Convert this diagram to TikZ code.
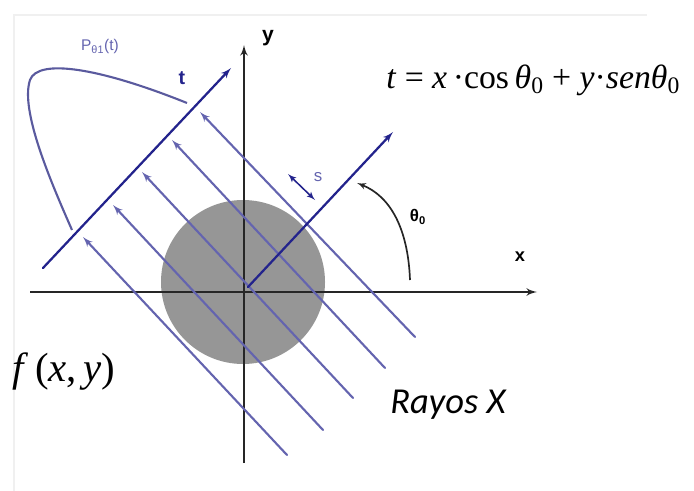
\documentclass[tikz,border=0pt]{standalone}
\usepackage{fontspec}
\setmainfont{Liberation Serif}
\setsansfont{Liberation Sans}
\newfontfamily\calibri{Carlito}
\usepackage{xcolor}
\usetikzlibrary{arrows}

\definecolor{navyblue}{RGB}{35,35,140}
\definecolor{raycol}{RGB}{100,100,175}
\definecolor{blobgray}{RGB}{150,150,150}

\begin{document}
\begin{tikzpicture}[x=0.025cm, y=-0.025cm,
    axis/.style={draw=black!85, line width=1.6pt, -latex'},
    tline/.style={draw=navyblue, line width=1.6pt, -latex', line cap=round},
    ray/.style={draw=raycol, line width=1.5pt, -latex', line cap=round},
    lbl/.style={font=\sffamily\fontsize{14}{14}\selectfont, inner sep=0pt}]

    \useasboundingbox (0,0) rectangle (694,491);
    \draw [black!6, line width=0.8pt] (14,491) -- (14,15) -- (647,15);

    % object
    \fill [blobgray] (243,282) circle (82);

    % axes
    \coordinate (xl) at (30,292);
    \coordinate (xr) at (537,292);
    \coordinate (yb) at (244,463);
    \coordinate (yt) at (244,45);
    \path [axis] (xl) -- (xr);
    \path [axis] (yb) -- (yt);
    \node [lbl, font=\sffamily\bfseries\fontsize{13}{13}\selectfont] (xlab) at (520,257) {x};
    \node [lbl, font=\sffamily\bfseries\fontsize{15}{15}\selectfont] (ylab) at (268,38) {y};

    % rays
    \foreach \sx/\sy/\ex/\ey [count=\i] in {287/455/83/237, 323/430/113/205, 353/398/142/172, 385/368/172/140, 415/337/200/112} {
        \coordinate (ray\i a) at (\sx,\sy);
        \coordinate (ray\i b) at (\ex,\ey);
        \path [ray] (ray\i a) -- (ray\i b);
    }

    % detector and s axes
    \coordinate (ta) at (43,268);
    \coordinate (tb) at (231,68);
    \coordinate (sa) at (248,287);
    \coordinate (sb) at (393,132);
    \path [tline] (ta) -- (tb);
    \path [tline] (sa) -- (sb);
    \node [lbl, font=\sffamily\bfseries\fontsize{14}{14}\selectfont, text=navyblue] (tlab) at (182,78) {t};

    % projection
    \coordinate (pa) at (72,230);
    \coordinate (pb) at (187,103);
    \draw [raycol!90!black, line width=1.5pt] (pa) .. controls (50,180) and (20,110) .. (30,80)
        .. controls (38,58) and (100,68) .. (pb);
    \node [lbl, font=\sffamily\fontsize{11}{11}\selectfont, text=raycol] (plab) at (100,47) {P\textsubscript{θ1}(t)};

    % s marker
    \coordinate (s1) at (288,174);
    \coordinate (s2) at (315,200);
    \draw [latex'-latex', navyblue, line width=1.1pt] (s1) -- (s2);
    \node [lbl, font=\sffamily\fontsize{12}{12}\selectfont, text=raycol] (slab) at (318,177) {s};

    % angle
    \coordinate (ang1) at (410,280);
    \coordinate (ang2) at (357,183);
    \draw [-latex', black!85, line width=1.2pt] (ang1) .. controls (408,228) and (390,196) .. (ang2);
    \node [lbl, font=\sffamily\bfseries\fontsize{12}{12}\selectfont] (thlab) at (418,217) {θ\textsubscript{0}};

    % texts
    \node [inner sep=0pt, anchor=west, font=\fontsize{24}{24}\selectfont] (eq) at (386,80)
        {\textit{t} = \textit{x}\,·cos\,\textit{θ}\textsubscript{0} + \textit{y}·\textit{senθ}\textsubscript{0}};
    \node [inner sep=0pt, anchor=west, font=\fontsize{29}{29}\selectfont] (fxy) at (12,372)
        {\textit{f}\,(\textit{x},\,\textit{y})};
    \node [inner sep=0pt, anchor=west, font=\calibri\itshape\fontsize{26}{26}\selectfont] (rayos) at (390,405) {Rayos X};
\end{tikzpicture}
\end{document}
